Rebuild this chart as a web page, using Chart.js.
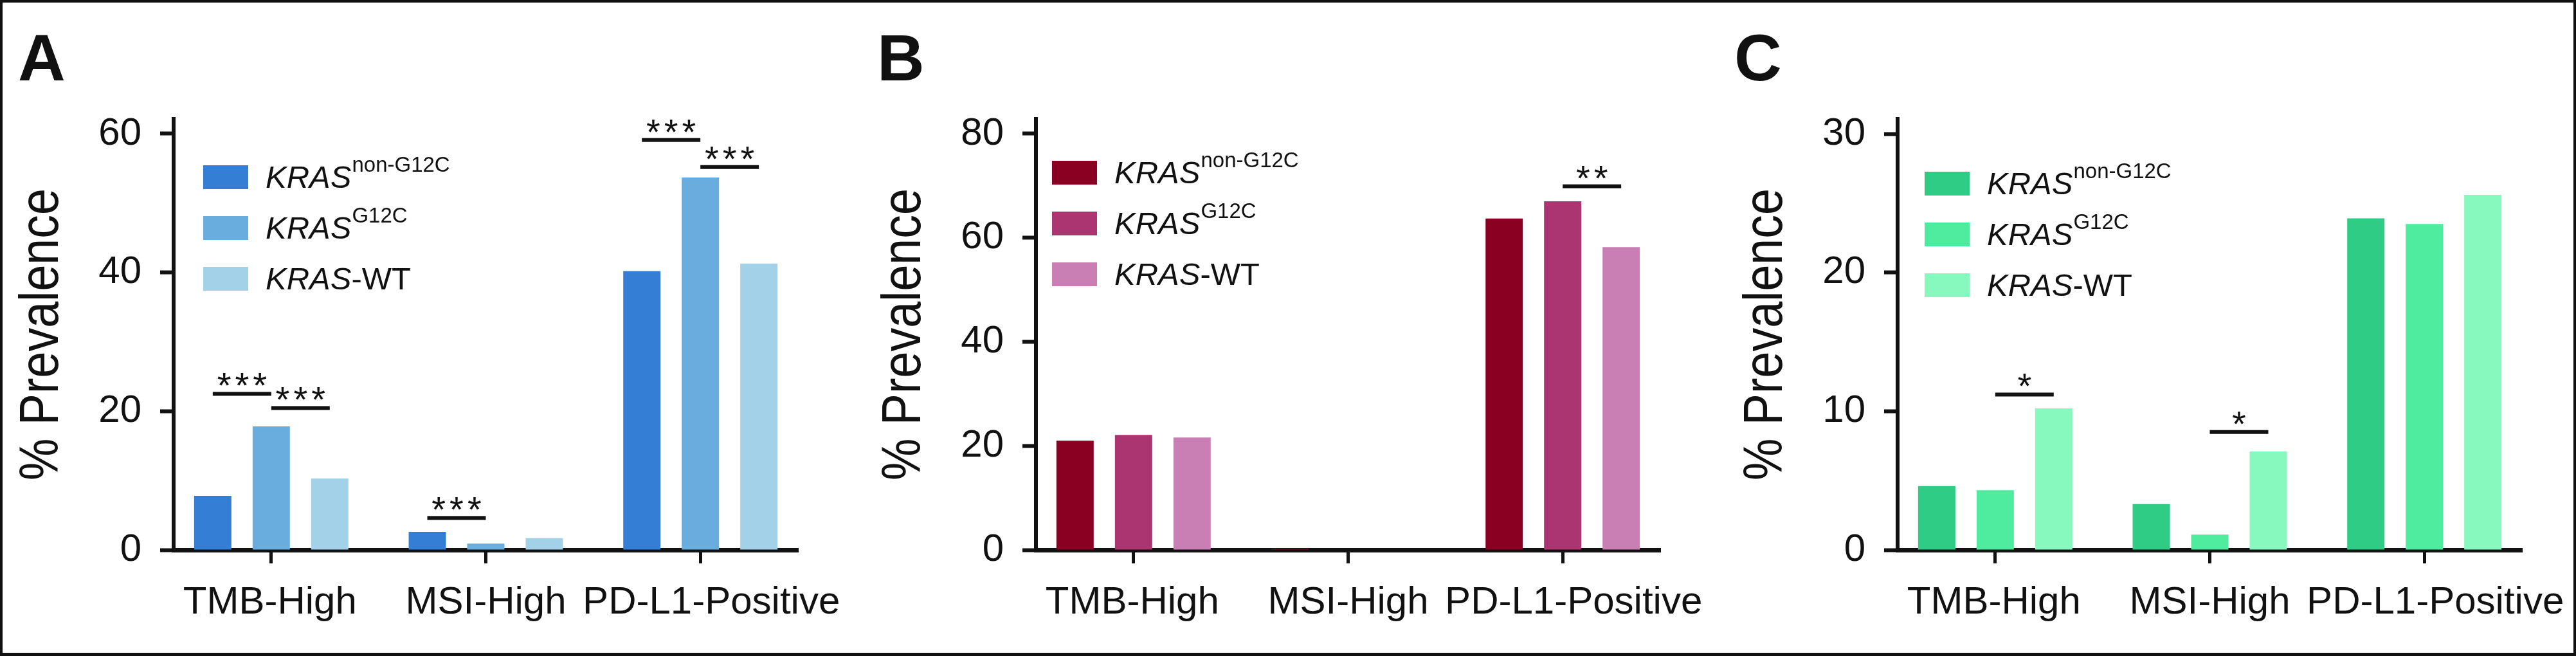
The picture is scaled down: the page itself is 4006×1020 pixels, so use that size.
<!DOCTYPE html>
<html>
<head>
<meta charset="utf-8">
<script src="https://cdn.jsdelivr.net/npm/chart.js@4"></script>
<style>
html, body { margin: 0; padding: 0; background: #fff; }
#wrap { position: relative; width: 4006px; height: 1020px; overflow: hidden; background: #fff; }
.panel { position: absolute; top: 0; width: 1340px; height: 1020px; }
#frame { position: absolute; left: 0; top: 0; width: 4006px; height: 1020px; box-sizing: border-box;
         border: 4px solid #111; border-bottom-width: 5px; pointer-events: none; }
</style>
</head>
<body>
<div id="wrap">
  <div class="panel" style="left:0px"><canvas id="chartA"></canvas></div>
  <div class="panel" style="left:1341px"><canvas id="chartB"></canvas></div>
  <div class="panel" style="left:2681px"><canvas id="chartC"></canvas></div>
  <div id="frame"></div>
</div>
<script>
// categories and legend text
const categories = ['TMB-High', 'MSI-High', 'PD-L1-Positive'];
const geneName = 'KRAS';
const legendSup = ['non-G12C', 'G12C', ''];
const legendTail = ['', '', '-WT'];
const yTitle = '% Prevalence';

// panel A values (% prevalence)
const aNonG12C = [7.8, 2.6, 40.2];
const aG12C = [17.8, 0.9, 53.7];
const aWT = [10.3, 1.7, 41.3];
const aTicks = [0, 20, 40, 60];

// panel B values
const bNonG12C = [21.0, 0.25, 63.7];
const bG12C = [22.1, 0, 67.0];
const bWT = [21.6, 0, 58.2];
const bTicks = [0, 20, 40, 60, 80];

// panel C values
const cNonG12C = [4.6, 3.3, 23.9];
const cG12C = [4.3, 1.1, 23.5];
const cWT = [10.2, 7.1, 25.6];
const cTicks = [0, 10, 20, 30];

// significance bars: [category, fromGroup, toGroup, height, label]
const aSig = [[0, 0, 1, 22.5, '***'], [0, 1, 2, 20.45, '***'], [1, 0, 1, 4.6, '***'],
              [2, 0, 1, 59.1, '***'], [2, 1, 2, 55.2, '***']];
const bSig = [[2, 1, 2, 69.9, '**']];
const cSig = [[0, 1, 2, 11.2, '*'], [1, 1, 2, 8.5, '*']];

const blues = ['#357ED6', '#69ACDE', '#A2D1E8'];
const reds = ['#8A0022', '#AB3570', '#C97FB3'];
const greens = ['#2ECC84', '#4FEC9F', '#87F9BF'];

const FONT = '"Liberation Sans", Arial, Helvetica, sans-serif';
const INK = '#111';
// the last category label sits a bit right of its tick in the original
const labelShift = [-2, 0, 17];

function makePanel(id, opts) {
    const ctx = document.getElementById(id).getContext('2d');

    const decorations = {
        id: 'decor_' + id,
        afterDraw(chart) {
            const c = chart.ctx;
            const yScale = chart.scales.y;
            const xScale = chart.scales.x;
            c.save();

            // panel letter
            c.fillStyle = INK;
            c.font = 'bold 102px ' + FONT;
            c.textAlign = 'left';
            c.textBaseline = 'alphabetic';
            c.fillText(opts.letter, opts.letterX, 125);

            // category labels
            c.font = '60px ' + FONT;
            c.textAlign = 'center';
            categories.forEach((name, i) => {
                c.fillText(name, xScale.getPixelForValue(i) + labelShift[i], 954);
            });

            // y axis title, slightly condensed
            c.save();
            c.translate(90, 520);
            c.rotate(-Math.PI / 2);
            c.font = '85px ' + FONT;
            const tw = c.measureText(yTitle).width;
            c.scale(454 / tw, 1);
            c.textAlign = 'center';
            c.fillText(yTitle, 0, 0);
            c.restore();

            // legend
            for (let i = 0; i < 3; i++) {
                const top = opts.legendTop + i * 79;
                c.fillStyle = opts.colors[i];
                c.fillRect(opts.legendX, top, 70, 37);
                const base = top + 18.5 + 16;
                const tx = opts.legendX + 97;
                c.fillStyle = INK;
                c.textAlign = 'left';
                c.font = 'italic 49px ' + FONT;
                c.fillText(geneName, tx, base);
                const gw = c.measureText(geneName).width;
                if (legendSup[i]) {
                    c.font = '33px ' + FONT;
                    c.fillText(legendSup[i], tx + gw + 1, base - 25);
                }
                if (legendTail[i]) {
                    c.font = '49px ' + FONT;
                    c.fillText(legendTail[i], tx + gw, base);
                }
            }

            // significance bars
            opts.sig.forEach(s => {
                const [cat, from, to, h, label] = s;
                const x1 = chart.getDatasetMeta(from).data[cat].x;
                const x2 = chart.getDatasetMeta(to).data[cat].x;
                const y = yScale.getPixelForValue(h);
                c.fillStyle = INK;
                c.fillRect(x1, y - 3, x2 - x1, 6);
                c.font = '56px ' + FONT;
                c.letterSpacing = '6px';
                c.textAlign = 'center';
                c.fillText(label, (x1 + x2) / 2 + 3, y + 6);
                c.letterSpacing = '0px';
            });

            c.restore();
        }
    };

    return new Chart(ctx, {
        type: 'bar',
        data: {
            datasets: opts.series.map((vals, i) => ({
                label: geneName + (legendSup[i] || legendTail[i]),
                data: vals.map((v, k) => ({ x: k, y: v })),
                backgroundColor: opts.colors[i],
                borderWidth: 0,
                categoryPercentage: 0.818,
                barPercentage: 0.637
            }))
        },
        options: {
            responsive: true,
            maintainAspectRatio: false,
            animation: false,
            layout: { padding: { left: 0, right: 99, top: 185, bottom: 0 } },
            plugins: { legend: { display: false }, tooltip: { enabled: false } },
            scales: {
                x: {
                    type: 'linear',
                    min: -0.455,
                    max: 2.455,
                    offset: false,
                    afterBuildTicks: s => { s.ticks = categories.map((c, i) => ({ value: i })); },
                    afterFit: s => { s.height = 165; },
                    border: { display: true, color: INK, width: 7 },
                    grid: { display: true, offset: false, drawOnChartArea: false, drawTicks: true, tickLength: 21, tickWidth: 5, tickColor: INK },
                    ticks: { display: false }
                },
                y: {
                    min: 0,
                    max: opts.yTop,
                    afterBuildTicks: s => { s.ticks = opts.yTicks.map(v => ({ value: v })); },
                    afterFit: s => { s.width = 270; },
                    border: { display: true, color: INK, width: 6 },
                    grid: { display: true, drawOnChartArea: false, drawTicks: true, tickLength: 21, tickWidth: 6, tickColor: INK },
                    ticks: {
                        color: INK,
                        padding: 29,
                        font: { family: FONT, size: 60 }
                    }
                }
            }
        },
        plugins: [decorations]
    });
}

makePanel('chartA', {
    letter: 'A', letterX: 28, series: [aNonG12C, aG12C, aWT], colors: blues,
    yTicks: aTicks, yTop: 62.13, sig: aSig, legendX: 316, legendTop: 257
});
makePanel('chartB', {
    letter: 'B', letterX: 23, series: [bNonG12C, bG12C, bWT], colors: reds,
    yTicks: bTicks, yTop: 82.84, sig: bSig, legendX: 295, legendTop: 250
});
makePanel('chartC', {
    letter: 'C', letterX: 16, series: [cNonG12C, cG12C, cWT], colors: greens,
    yTicks: cTicks, yTop: 31.07, sig: cSig, legendX: 312, legendTop: 267
});
</script>
</body>
</html>
